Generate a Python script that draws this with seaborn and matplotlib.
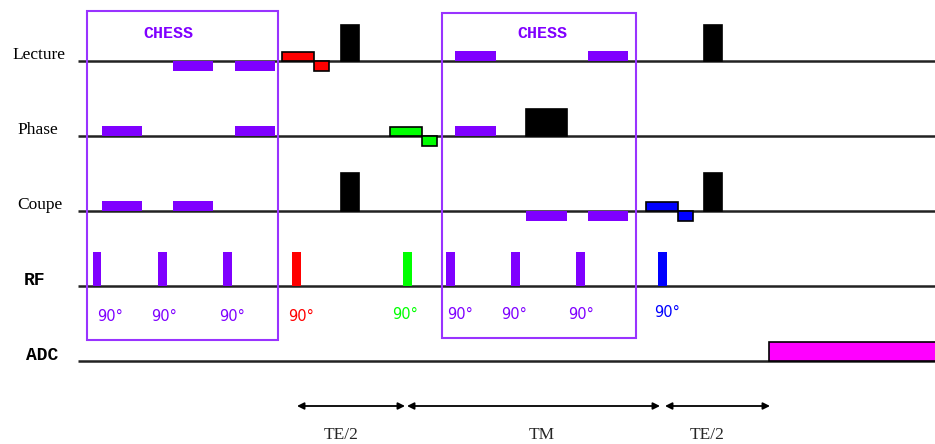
import matplotlib
matplotlib.use("Agg")
import matplotlib.pyplot as plt
import seaborn as sns

# --- Données de la séquence (unités : axe temps horizontal, amplitude en px) ---

row_names = ["Lecture", "Phase", "Coupe", "RF", "ADC"]
row_level = [61, 136, 211, 286, 361]
row_label_x = [12, 17, 17, 24, 26]
row_label_font = ["serif", "serif", "serif", "mono", "mono"]

# lobes de gradient
grad_row = ["Lecture", "Lecture", "Phase", "Phase", "Coupe", "Coupe",
            "Lecture", "Lecture", "Lecture", "Coupe",
            "Phase", "Phase",
            "Lecture", "Lecture", "Phase", "Phase", "Coupe", "Coupe",
            "Coupe", "Coupe", "Lecture", "Coupe"]
grad_start = [173, 235, 102, 235, 102, 173,
              282, 314, 341, 341,
              390, 422,
              455, 588, 455, 526, 526, 588,
              646, 678, 704, 704]
grad_end = [213, 275, 142, 275, 142, 213,
            314, 329, 359, 359,
            422, 437,
            496, 628, 496, 567, 567, 628,
            678, 693, 722, 722]
grad_amp = [-10, -10, 10, 10, 10, 10,
            9, -10, 36, 38,
            9, -10,
            10, 10, 10, 27, -10, -10,
            9, -10, 36, 38]
grad_color = ["#7F00FF"] * 6 + ["#FF0000", "#FF0000", "black", "black",
                                "#00FF00", "#00FF00"] + ["#7F00FF"] * 3 + ["black"] + ["#7F00FF"] * 2 + \
             ["#0000FF", "#0000FF", "black", "black"]

# impulsions RF
rf_start = [93, 158, 223, 292, 403, 446, 511, 576, 658]
rf_width = [8, 9, 9, 9, 9, 9, 9, 9, 9]
rf_amp = [34, 34, 34, 34, 34, 34, 34, 34, 34]
rf_color = ["#7F00FF", "#7F00FF", "#7F00FF", "#FF0000", "#00FF00",
            "#7F00FF", "#7F00FF", "#7F00FF", "#0000FF"]
rf_label = ["90°"] * 9
rf_label_x = [97, 151, 219, 288, 392, 447, 501, 568, 654]
rf_label_y = [316, 316, 316, 316, 314, 314, 314, 314, 312]

# acquisition
adc_start = 769
adc_end = 940
adc_amp = 19

# blocs CHESS
chess_x0 = [87, 442]
chess_x1 = [278, 636]
chess_y0 = [11, 13]
chess_y1 = [340, 338]
chess_text_x = [168, 542]
chess_text_y = [33, 34]

# intervalles de temps
interval_start = [297, 407, 665]
interval_end = [405, 660, 770]
interval_name = ["TE/2", "TM", "TE/2"]
interval_y = 406
interval_text_y = 435

# --- Figure ---
sns.set_style("white")
fig = plt.figure(figsize=(9.35, 4.44), dpi=100)
ax = fig.add_axes([0, 0, 1, 1])
ax.set_xlim(0, 935)
ax.set_ylim(444, 0)
ax.axis("off")

level = dict(zip(row_names, row_level))
fonts = {"serif": "Liberation Serif", "mono": "Liberation Mono"}

# lignes de base et noms des voies
for name, y, lx, fnt in zip(row_names, row_level, row_label_x, row_label_font):
    ax.hlines(y, 78, 935, color="#222222", lw=1.8, zorder=2)
    ax.text(lx, y - 6, name, ha="left", va="center",
            fontsize=12.5 if fnt == "serif" else 13,
            fontweight="normal" if fnt == "serif" else "bold",
            family=fonts[fnt], color="black")

# gradients
for r, s, e, a, c in zip(grad_row, grad_start, grad_end, grad_amp, grad_color):
    edge = "none" if c == "#7F00FF" else "black"
    ax.bar(s, -a, width=e - s, bottom=level[r], align="edge",
           color=c, edgecolor=edge, lw=1.2, zorder=3)

# RF
for s, w, a, c in zip(rf_start, rf_width, rf_amp, rf_color):
    ax.bar(s, -a, width=w, bottom=level["RF"], align="edge", color=c,
           edgecolor="none", zorder=3)
for t, x, y, c in zip(rf_label, rf_label_x, rf_label_y, rf_color):
    ax.text(x, y, t, ha="left", va="center", fontsize=10.5,
            family="DejaVu Sans", color=c)

# ADC
ax.bar(adc_start, -adc_amp, width=adc_end - adc_start, bottom=level["ADC"],
       align="edge", color="#FF00FF", edgecolor="black", lw=1.2, zorder=3)

# CHESS
for x0, x1, y0, y1, tx, ty in zip(chess_x0, chess_x1, chess_y0, chess_y1,
                                  chess_text_x, chess_text_y):
    ax.add_patch(plt.Rectangle((x0, y0), x1 - x0, y1 - y0, fill=False,
                               edgecolor="#9933FF", lw=1.5, zorder=4))
    ax.text(tx, ty, "CHESS", ha="center", va="center", fontsize=12,
            fontweight="bold", family="Liberation Mono", color="#8000FF")

# intervalles
for s, e, name in zip(interval_start, interval_end, interval_name):
    ax.annotate("", xy=(e, interval_y), xytext=(s, interval_y),
                arrowprops=dict(arrowstyle="<|-|>", color="black", lw=1.3,
                                mutation_scale=10, shrinkA=0, shrinkB=0))
    ax.text((s + e) / 2 - 10 if name == "TE/2" else (s + e) / 2 + 8,
            interval_text_y, name, ha="center", va="center",
            fontsize=12.5, family="Liberation Serif")

fig.savefig("out.png", dpi=100)
